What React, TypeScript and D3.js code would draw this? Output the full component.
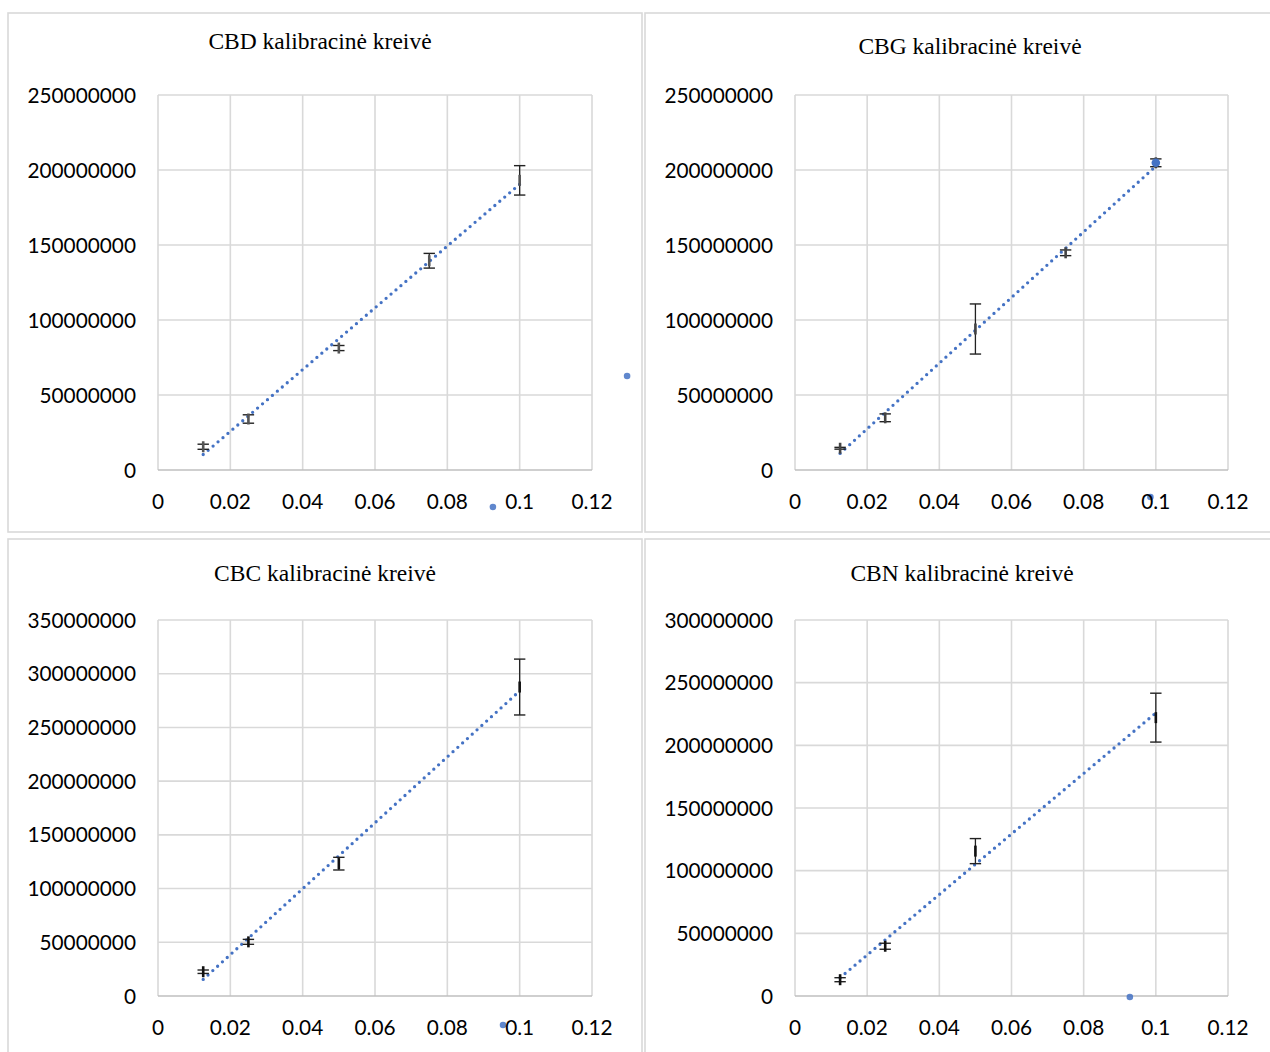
import React from 'react';
import * as d3 from 'd3';

// ---- data ----
const concFive = [0.0125, 0.025, 0.05, 0.075, 0.1];
const concFour = [0.0125, 0.025, 0.05, 0.1];

const cbdArea = [15.5e6, 34e6, 81.3e6, 139.5e6, 193.1e6];
const cbdErr = [1.7e6, 2.8e6, 1.7e6, 4.9e6, 9.8e6];

const cbgArea = [14.5e6, 34.8e6, 94e6, 144.8e6, 204.8e6];
const cbgErr = [0.6e6, 2.6e6, 16.7e6, 1.9e6, 2.6e6];

const cbcArea = [22.6e6, 50.4e6, 123.2e6, 287.6e6];
const cbcErr = [1.6e6, 2.3e6, 5.9e6, 26e6];

const cbnArea = [13e6, 39.7e6, 115.6e6, 222.1e6];
const cbnErr = [1.6e6, 2.4e6, 10e6, 19.5e6];

const xTicks = [0, 0.02, 0.04, 0.06, 0.08, 0.1, 0.12];
const yTicks250 = [0, 50000000, 100000000, 150000000, 200000000, 250000000];
const yTicks350 = [0, 50000000, 100000000, 150000000, 200000000, 250000000, 300000000, 350000000];
const yTicks300 = [0, 50000000, 100000000, 150000000, 200000000, 250000000, 300000000];

// stray legend-like markers in data coordinates
const cbdStray = [[0.1297, 62.7e6], [0.0926, -24.7e6]];
const cbgStray = [[0.0985, -18e6]];
const cbcStray = [[0.0954, -27e6]];
const cbnStray = [[0.0928, -0.8e6]];

const titles = ['CBD kalibracinė kreivė', 'CBG kalibracinė kreivė', 'CBC kalibracinė kreivė', 'CBN kalibracinė kreivė'];

const BLUE = '#4472C4';
const GRID = '#D9D9D9';

interface Panel {
  title: string;
  box: [number, number, number, number];
  plot: { left: number; right: number; top: number; bottom: number };
  titleX: number;
  titleY: number;
  yTicks: number[];
  xs: number[];
  ys: number[];
  errs: number[];
  markerColor: string;
  stray: number[][];
  endDot?: boolean;
}

const panels: Panel[] = [
  {
    title: titles[0], box: [8, 13, 634, 519],
    plot: { left: 158, right: 592, top: 95, bottom: 470 },
    titleX: 320, titleY: 49, yTicks: yTicks250,
    xs: concFive, ys: cbdArea, errs: cbdErr, markerColor: '#555', stray: cbdStray,
  },
  {
    title: titles[1], box: [645, 13, 632, 519],
    plot: { left: 795, right: 1228, top: 95, bottom: 470 },
    titleX: 970, titleY: 54, yTicks: yTicks250,
    xs: concFive, ys: cbgArea, errs: cbgErr, markerColor: '#444', stray: cbgStray, endDot: true,
  },
  {
    title: titles[2], box: [8, 539, 634, 520],
    plot: { left: 158, right: 592, top: 620, bottom: 996 },
    titleX: 325, titleY: 581, yTicks: yTicks350,
    xs: concFour, ys: cbcArea, errs: cbcErr, markerColor: '#111', stray: cbcStray,
  },
  {
    title: titles[3], box: [645, 539, 632, 520],
    plot: { left: 795, right: 1228, top: 620, bottom: 996 },
    titleX: 962, titleY: 581, yTicks: yTicks300,
    xs: concFour, ys: cbnArea, errs: cbnErr, markerColor: '#111', stray: cbnStray,
  },
];

function regression(xs: number[], ys: number[]) {
  const mx = d3.mean(xs) as number;
  const my = d3.mean(ys) as number;
  const sxy = d3.sum(xs, (x, i) => (x - mx) * (ys[i] - my));
  const sxx = d3.sum(xs, (x) => (x - mx) * (x - mx));
  const slope = sxy / sxx;
  return { slope, intercept: my - slope * mx };
}

const TICK_FONT = 'Lato, "Open Sans", sans-serif';
const TITLE_FONT = '"Liberation Serif", "DejaVu Serif", serif';

function ChartPanel({ p }: { p: Panel }) {
  const x = d3.scaleLinear().domain([0, 0.12]).range([p.plot.left, p.plot.right]);
  const yMax = p.yTicks[p.yTicks.length - 1];
  const y = d3.scaleLinear().domain([0, yMax]).range([p.plot.bottom, p.plot.top]);
  const reg = regression(p.xs, p.ys);
  const x0 = p.xs[0];
  const x1 = p.xs[p.xs.length - 1];
  const trend = d3.line<number>().x((d) => x(d)).y((d) => y(reg.intercept + reg.slope * d))([x0, x1]) || '';
  const cap = 5.7;
  return (
    <g>
      <rect x={p.box[0]} y={p.box[1]} width={p.box[2]} height={p.box[3]} fill="#fff" stroke={GRID} strokeWidth={1.6} />
      {xTicks.map((t) => (
        <line key={'vx' + t} x1={x(t)} x2={x(t)} y1={p.plot.top} y2={p.plot.bottom} stroke={GRID} strokeWidth={1.6} />
      ))}
      {p.yTicks.map((t) => (
        <line key={'hy' + t} x1={p.plot.left} x2={p.plot.right} y1={y(t)} y2={y(t)} stroke={t === 0 ? '#BFBFBF' : GRID} strokeWidth={1.6} />
      ))}
      {p.stray.map((s, i) => (
        <circle key={'st' + i} cx={x(s[0])} cy={y(s[1])} r={3.3} fill={BLUE} opacity={0.85} />
      ))}
      <path d={trend} fill="none" stroke={BLUE} strokeWidth={3.3} strokeDasharray="0 6.5" strokeLinecap="round" />
      {p.xs.map((xv, i) => {
        const cx = x(xv);
        const top = y(p.ys[i] + p.errs[i]);
        const bot = y(p.ys[i] - p.errs[i]);
        const cy = y(p.ys[i]);
        return (
          <g key={'e' + i}>
            <line x1={cx} x2={cx} y1={top} y2={bot} stroke="#222" strokeWidth={1.3} />
            <line x1={cx - cap} x2={cx + cap} y1={top} y2={top} stroke="#222" strokeWidth={1.4} />
            <line x1={cx - cap} x2={cx + cap} y1={bot} y2={bot} stroke="#222" strokeWidth={1.4} />
            <line x1={cx} x2={cx} y1={cy - 5.5} y2={cy + 5.5} stroke={p.markerColor} strokeWidth={2.6} />
          </g>
        );
      })}
      {p.endDot && (
        <circle cx={x(x1)} cy={y(p.ys[p.ys.length - 1])} r={4.3} fill={BLUE} />
      )}
      {p.yTicks.map((t) => (
        <text key={'ly' + t} x={p.plot.left - 22} y={y(t) + 7.5} textAnchor="end" fontFamily={TICK_FONT} fontSize={20.8} fill="#000">
          {String(t)}
        </text>
      ))}
      {xTicks.map((t) => (
        <text key={'lx' + t} x={x(t)} y={p.plot.bottom + 38.5} textAnchor="middle" fontFamily={TICK_FONT} fontSize={20.8} fill="#000">
          {String(t)}
        </text>
      ))}
      <text x={p.titleX} y={p.titleY} textAnchor="middle" fontFamily={TITLE_FONT} fontSize={23.5} fill="#000">
        {p.title}
      </text>
    </g>
  );
}

export default function App() {
  return (
    <svg width={1270} height={1052} style={{ position: 'absolute', left: 0, top: 0, background: '#fff' }}>
      <rect x={0} y={0} width={1270} height={1052} fill="#fff" />
      {panels.map((p, i) => (
        <ChartPanel key={i} p={p} />
      ))}
    </svg>
  );
}
